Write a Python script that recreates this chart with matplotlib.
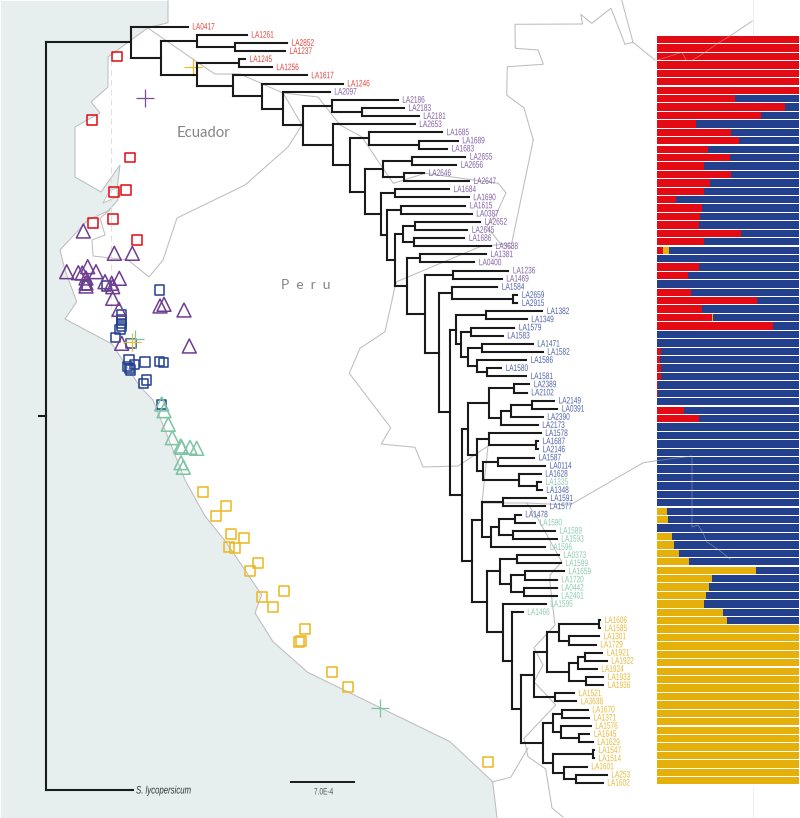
import matplotlib
matplotlib.use("Agg")
import matplotlib.pyplot as plt
from matplotlib.collections import LineCollection
from matplotlib.patches import Polygon
from matplotlib.patheffects import AbstractPathEffect
from matplotlib.transforms import Affine2D
import numpy as np

plt.rcParams['font.family'] = ['Liberation Sans', 'DejaVu Sans']

W, H = 800, 818

# ---- phylogeny: (node position, child, child) / (tip label, tip position) ----
TREE = (130.7, ("LA0417", 187.7),
 (160.7,
  (196.7, ("LA1261", 246.7), (235.3, ("LA2852", 287), ("LA1237", 285))),
  (197.3,
   (239.3, ("LA1245", 245), ("LA1256", 271.7)),
   (233.3, ("LA1617", 306.7),
    (261.7, ("LA1246", 342.7),
     (283, ("LA2097", 329.7),
      (303.3,
       (331.7, ("LA2186", 397.7), (361.7, ("LA2183", 404), ("LA2181", 418.7))),
       (333, ("LA2653", 414.7),
        (350.3,
         (368.7, ("LA1685", 442), (419, ("LA1689", 457.7), ("LA1683", 447))),
         (365.3,
          (383.3, (412.3, ("LA2655", 465.3), ("LA2656", 456)),
                  (404, ("LA2646", 424), ("LA2647", 469))),
          (380.7,
           (394.7, ("LA1684", 449), ("LA1690", 468.7)),
           (386.7,
            (400.7, ("LA1615", 465.3), ("LA0387", 471.7)),
            (395.3,
             (402.7, (415, ("LA2652", 480), ("LA2645", 467.3)),
                     (414.3, ("LA1686", 464.3), ("LA3688", 491))),
             (407,
              (420.3, ("LA1381", 486), ("LA0400", 474.3)),
              (425,
               (453.3, ("LA1236", 508.3), ("LA1469", 501.7)),
               (439,
                (452.3, ("LA1584", 497.3), (512.7, ("LA2659", 517.3), ("LA2915", 517.3))),
                (450,
                 (456,
                  (486, ("LA1382", 542.3), ("LA1349", 526.7)),
                  (460.7,
                   (470.7, ("LA1579", 514.3), ("LA1583", 502.7)),
                   (468.3,
                    (481.7, ("LA1471", 532.7), ("LA1582", 542.7)),
                    (476.7, ("LA1586", 526), (486.7, ("LA1580", 501), ("LA1581", 526)))))),
                 (462.3,
                  (468.3,
                   (489.3,
                    (514.3, ("LA2389", 529.3), ("LA2102", 526.7)),
                    (500.7,
                     (511, (532.3, ("LA2149", 554), ("LA0391", 557.3)), ("LA2390", 542.7)),
                     ("LA2173", 537.7))),
                   (477,
                    (489.3, ("LA1578", 540.7), (536.3, ("LA1687", 538), ("LA2146", 538))),
                    (483.3,
                     (498, ("LA1587", 534), ("LA0114", 545)),
                     (518.7, ("LA1628", 540.7), (537.3, ("LA1335", 541), ("LA1348", 541.7)))))),
                  (472.3,
                   (482.3,
                    (502.7, ("LA1591", 546), ("LA1577", 545)),
                    (491.3,
                     (499.3, (514.7, ("LA1478", 520.7), ("LA1590", 535)),
                             (512.7, ("LA1589", 555), ("LA1593", 556.7))),
                     ("LA1596", 545))),
                   (486.7,
                    (500,
                     (516.7, ("LA0373", 559), ("LA1599", 561)),
                     (510.7,
                      (525.3, ("LA1659", 564), ("LA1720", 556.7)),
                      (523.7, ("LA0442", 556.7), ("LA2401", 556.7)))),
                    (502.7, ("LA1595", 545.7),
                     (512.3, ("LA1466", 522.7),
                      (521.3,
                       (534,
                        (547.3,
                         (559, (599, ("LA1606", 600), ("LA1585", 600)),
                               (568.7, ("LA1301", 599), ("LA1729", 595.7))),
                         (569,
                          (577.7, (584.7, ("LA1921", 602.3), ("LA1922", 606.7)), ("LA1924", 596.7)),
                          (585.7, ("LA1933", 603.3), ("LA1936", 603.3)))),
                        (555, ("LA1521", 574.3), ("LA3638", 576))),
                       (542.7,
                        (553.3,
                         (561.7, ("LA1670", 587.7), ("LA1371", 589)),
                         (560.7, ("LA1576", 590.7),
                          (579, ("LA1645", 589.3), ("LA1629", 592.7)))),
                        (553.3,
                         (593.3, ("LA1547", 594), ("LA1514", 594)),
                         (564.3, ("LA1601", 586.7),
                          (575.7, ("LA253", 606.7), ("LA1602", 602.7))))))))))))))))))))))))))))
ROOT_X = 45.5
ROOT_STEM_X = 39
OUTGROUP_X = 133
OUTGROUP_Y = 790
OUTGROUP_LABEL = "S. lycopersicum"

RED_TIPS = ["LA0417", "LA1261", "LA2852", "LA1237", "LA1245", "LA1256", "LA1617", "LA1246"]
BLUE_TIPS = ["LA1584", "LA2659", "LA2915", "LA1382", "LA1349", "LA1579", "LA1583", "LA1471", "LA1582",
             "LA1586", "LA1580", "LA1581", "LA2389", "LA2102", "LA2149", "LA0391", "LA2390", "LA2173",
             "LA1578", "LA1687", "LA2146", "LA1587", "LA0114", "LA1628", "LA1348", "LA1591", "LA1577",
             "LA1478"]
GREEN_TIPS = ["LA1335", "LA1590", "LA1589", "LA1593", "LA1596", "LA0373", "LA1599", "LA1659", "LA1720",
              "LA0442", "LA2401", "LA1595", "LA1466"]
YELLOW_TIPS = ["LA1606", "LA1585", "LA1301", "LA1729", "LA1921", "LA1922", "LA1924", "LA1933", "LA1936",
               "LA1521", "LA3638", "LA1670", "LA1371", "LA1576", "LA1645", "LA1629", "LA1547", "LA1514",
               "LA1601", "LA253", "LA1602"]

# ---- admixture bars (fraction of each row) ----
BAR_RED = [1]*7 + [.55, .90, .733, .274, .525, .58, .363, .518, .33, .525, .375, .33, .133, .316, .304, .30,
               .593, .333, .044, 0, .30, .22, 0, .24, .707, .316, .389, .817, 0, .005, .03, .023, .028, .028,
               .012, .007, 0, .192, .295] + [0]*43
BAR_YELLOW = [0]*25 + [.043] + [0]*7 + [.005] + [0]*22 + [.075, .08, 0, .108, .124, .16, .225, .698, .389, .368,
               .344, .335, .466, .492] + [1]*19

# ---- map: outlines in image position ----
SEA = [(1, 1), (168, 1), (168, 22.7), (148, 27.7), (108, 57), (108, 87), (91, 102), (100, 113), (75, 127), (75, 177),
       (101, 192), (120, 165), (117, 190), (118, 200), (108, 211), (88, 220), (60, 250), (65, 270),
       (76.7, 301.7), (65, 319), (112, 344), (140, 386.7), (153, 400), (185, 480), (205, 516), (226.7, 543),
       (261.7, 595), (255, 613), (273, 641.7), (307.7, 672.3), (450, 741.7), (492.7, 781.7), (497, 818), (1, 818)]
ISLAND = [(103, 203), (110, 190), (118, 188), (119, 196)]
BORDERS = [
    [(148, 28), (197, 62), (215, 74), (240, 74), (283, 93), (318, 97), (340, 125), (362, 137), (382, 167), (393.3, 183.3),
     (425, 173.3), (498.3, 183.3), (506, 192.7), (496.7, 213.3), (486.7, 226.7), (500, 243), (511.7, 248)],
    [(283, 93), (302, 125), (288, 147), (245, 185), (177, 218), (163, 260), (149, 277), (128, 260), (93, 256),
     (92, 240), (105, 235), (100, 218), (110, 210)],
    [(533.3, 140), (511.7, 243.3), (480, 246.7), (396.7, 281.7), (395, 286.7), (385, 331.7), (360, 348.3), (349.3, 373.3),
     (390.7, 427.7), (381.3, 444), (415, 447.3),
     (423, 467), (458, 466), (488, 446), (482, 503), (526.7, 503), (536.7, 516.7), (561.7, 561.7), (550, 575),
     (550, 583), (555, 625), (534, 647.7), (543, 665), (534, 681.7), (555.7, 705), (524, 738.3), (528, 756.7),
     (545.7, 769), (552, 808), (563, 817)],
    [(528, 748), (510.7, 777.3), (492.7, 781.7)],
    [(526.7, 503), (570, 505), (643.3, 462.7), (656.7, 460.7)],
    [(621.7, 0), (633, 42.3), (655, 60)],
    [(533.3, 140), (524, 108), (506.7, 95), (507.3, 66.7), (543.3, 64.3), (538, 50), (515.3, 48.3), (515, 24.3),
     (582.7, 24), (580.7, 14.3), (591.7, 23.3), (611, 8.3), (625, 44.3), (633, 42.3)],
    [(752.3, 21), (730, 36)],
]
FAINT_OVER_BARS = [
    [(656, 60.7), (681.7, 52.3), (686.7, 60.7), (691.7, 60.7), (705, 52.3), (716.7, 44), (730, 36)],
    [(656.7, 460.7), (692, 456), (692, 527), (698, 525), (703, 533), (707, 542), (719, 550), (730, 559)],
]
DASHED_LINE = [(111, 60), (111, 320)]
RED_SQ = [(117, 56.5), (92, 120), (130.3, 157.5), (126, 189.7), (114.3, 192), (112.7, 219.3), (92.7, 223.3), (136.7, 239.7)]
BLUE_SQ = [(159.3, 290), (86.3, 285.7), (106.7, 286), (121.7, 315), (121.7, 319.3), (121.7, 323.3), (121.7, 326.7),
           (120, 329.3), (115.7, 337.7), (131, 343.3), (129, 359.3), (134.3, 364.3), (145, 362), (159.3, 361.3),
           (163.3, 362.3), (127.3, 366.7), (129.3, 368.3), (130.7, 370), (146.7, 380), (143.3, 383.3), (161.7, 404.3)]
YELLOW_SQ = [(203.3, 491.7), (225.7, 506), (216, 515.7), (231, 533.7), (244, 537.7), (229, 546.7), (235.3, 548.3),
             (257.7, 563.3), (250, 570.7), (284.3, 591), (262.3, 597.3), (273.3, 607.3), (305, 629), (301, 641.3),
             (299, 642.3), (332, 672.3), (348.3, 686.7), (488, 762.3)]
PURPLE_TRI = [(83.3, 231), (114.3, 253.3), (132.3, 253.3), (66.7, 271.7), (78.3, 272.7), (82.3, 273), (87.7, 266.7),
              (96, 271.7), (86, 278), (86, 283), (86, 286), (105, 281.7), (111.7, 283.3), (112.7, 286.7), (119.3, 278.3),
              (112.7, 298.3), (119, 309.3), (160, 306), (164, 304.3), (184, 310), (189.3, 346), (121.7, 343.3)]
GREEN_TRI = [(161.7, 404), (164, 410.7), (168.3, 424.3), (172.3, 437.7), (180.7, 446), (181.7, 447.3), (190, 447.3),
             (196.7, 448.3), (181, 462.7), (183.3, 467.3)]
CROSSES = [(193, 67, '#E8B93A'), (145, 98, '#7A4C9A'), (135, 339, '#7CC4A4'), (132, 341.5, '#E8B93A'), (379.5, 708.3, '#7CC4A4')]

C_RED, C_BLUE, C_YEL = '#E30A13', '#23408F', '#E6B00A'
C_GREEN, C_PURPLE = '#7CC4A4', '#6F3D8F'
TIP_COL = {'red': '#E8453E', 'blue': '#5062AA', 'green': '#8CCBAE', 'yellow': '#E8B93A', 'purple': '#8260A4'}


class Squeeze(AbstractPathEffect):
    """Draw the glyphs of a text narrower, as the condensed face of the figure."""
    def __init__(self, sx):
        super().__init__()
        self.sx = sx

    def draw_path(self, renderer, gc, tpath, affine, rgbFace=None):
        renderer.draw_path(gc, tpath, Affine2D().scale(self.sx, 1) + affine, rgbFace)


NARROW = [Squeeze(0.69)]

fig = plt.figure(figsize=(W/100, H/100), dpi=100)
ax = fig.add_axes([0, 0, 1, 1])
ax.set_xlim(0, W); ax.set_ylim(H, 0); ax.axis('off')

ax.add_patch(Polygon(SEA, closed=True, fc='#E6EEEE', ec='none', zorder=1))
ax.add_patch(Polygon(ISLAND, closed=True, fc='white', ec='#BDBDBD', lw=0.6, zorder=1.5))
ax.plot(*zip(*SEA[1:-1]), color='#BDBDBD', lw=0.75, zorder=2, solid_joinstyle='miter')
for b in BORDERS:
    xs, ys = zip(*b)
    ax.plot(xs, ys, color='#BDBDBD', lw=0.75, zorder=2, solid_joinstyle='miter')
ax.plot(*zip(*DASHED_LINE), color='#DEDEDE', lw=0.7, ls=(0, (6, 4)), zorder=2)
ax.plot([752.7, 752.7], [0, 36], color='#EDEDED', lw=0.6, zorder=2)
ax.plot([752.7, 752.7], [786, 818], color='#EDEDED', lw=0.6, zorder=2)

ax.text(177, 133, "Ecuador", family=['Lato', 'DejaVu Sans'], fontsize=10.7, color='#858585', va='center', zorder=3)
ax.text(281, 285, "P  e  r  u", family=['Lato', 'DejaVu Sans'], fontsize=10, color='#858585', va='center', zorder=3)

# map markers
for pts, col, mk, s in [(RED_SQ, C_RED, 's', 48), (BLUE_SQ, C_BLUE, 's', 46), (YELLOW_SQ, '#EDB71F', 's', 48),
                        (PURPLE_TRI, C_PURPLE, '^', 100), (GREEN_TRI, C_GREEN, '^', 100)]:
    xs, ys = zip(*pts)
    ax.scatter(xs, ys, marker=mk, s=s, facecolors='none', edgecolors=col, linewidths=1.1, zorder=4)
for x, y, c in CROSSES:
    ax.scatter([x], [y], marker='+', s=160, color=c, linewidths=0.9, zorder=4)

# tree
TIP_Y0, TIP_DY = 26.7, 8.13
segs = []
tips = []
def layout(node):
    if isinstance(node[0], str):
        y = TIP_Y0 + len(tips)*TIP_DY
        tips.append((node[0], node[1], y))
        return node[1], y
    x = node[0]
    kids = [layout(c) for c in node[1:]]
    ys = [k[1] for k in kids]
    y = (min(ys) + max(ys))/2
    segs.append([(x, min(ys)), (x, max(ys))])
    for kx, ky in kids:
        segs.append([(x, ky), (kx, ky)])
    return x, y
tx, ty = layout(TREE)
root_y = (ty + OUTGROUP_Y)/2
segs += [[(ROOT_X, ty), (ROOT_X, OUTGROUP_Y)], [(ROOT_X, ty), (tx, ty)], [(ROOT_X, OUTGROUP_Y), (OUTGROUP_X, OUTGROUP_Y)],
         [(ROOT_STEM_X, root_y), (ROOT_X, root_y)]]
ax.add_collection(LineCollection(segs, colors='#1A1A1A', linewidths=1.5, capstyle='projecting', zorder=5))

for lab, x, y in tips:
    g = ('red' if lab in RED_TIPS else 'blue' if lab in BLUE_TIPS else 'green' if lab in GREEN_TIPS
         else 'yellow' if lab in YELLOW_TIPS else 'purple')
    ax.text(x + 4.6, y + 0.3, lab, fontsize=6.8, color=TIP_COL[g], va='center', ha='left', zorder=6,
            path_effects=NARROW)
ax.text(136, OUTGROUP_Y + 0.5, OUTGROUP_LABEL, fontsize=7.8, style='italic', color='#333333', va='center', zorder=6,
        path_effects=[Squeeze(0.72)])

# scale bar
ax.plot([290, 355.3], [782.3, 782.3], color='#1A1A1A', lw=1.4, solid_capstyle='butt', zorder=5)
ax.text(314, 792, "7.0E-4", fontsize=6.8, color='#555555', ha='left', va='center', zorder=6, path_effects=NARROW)

# admixture bars
bx = fig.add_axes([656.6/W, 1-784.9/H, (799-656.6)/W, (784.9-35.5)/H])
bx.patch.set_alpha(0)
rows = np.arange(len(BAR_RED))
r, yl = np.array(BAR_RED, float), np.array(BAR_YELLOW, float)
blue = np.clip(1 - r - yl, 0, 1)
bx.barh(rows, r, height=0.87, color=C_RED, lw=0)
bx.barh(rows, yl, left=r, height=0.87, color=C_YEL, lw=0)
bx.barh(rows, blue, left=r+yl, height=0.87, color=C_BLUE, lw=0)
bx.set_xlim(0, 1); bx.set_ylim(88.5, -0.5); bx.axis('off')

ov = fig.add_axes([0, 0, 1, 1]); ov.set_xlim(0, W); ov.set_ylim(H, 0); ov.axis('off'); ov.patch.set_alpha(0)
for b in FAINT_OVER_BARS:
    ov.plot(*zip(*b), color='#C8C8C8', lw=0.6, alpha=0.45)

fig.savefig("out.png", dpi=100)
